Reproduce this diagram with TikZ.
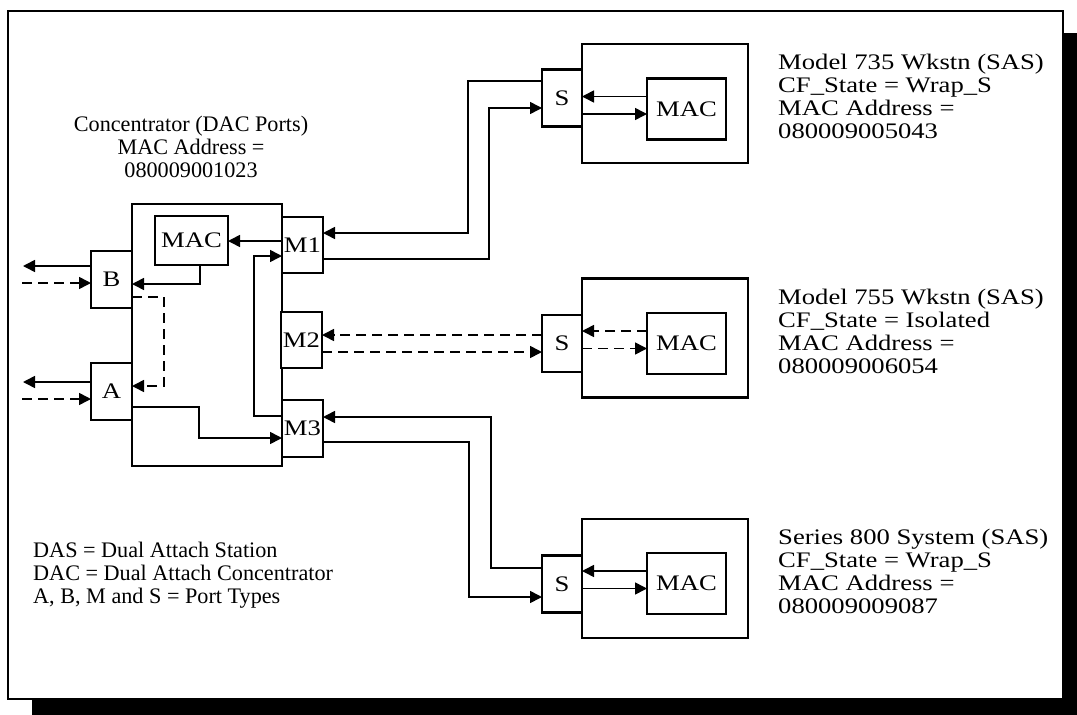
\documentclass[tikz,border=0pt]{standalone}
\usepackage{fontspec}
\setmainfont{Liberation Serif}
\newfontfamily\widefont{Liberation Serif}[FakeStretch=1.2]
\usepackage{tikz}
\usetikzlibrary{arrows.meta}

\begin{document}
\fontsize{22.2}{23}\selectfont
\begin{tikzpicture}[x=1pt,y=1pt,
  port/.style={draw,line width=2.6pt,fill=white,inner sep=0pt,outer sep=0pt,font=\widefont},
  conn/.style={line width=1.6pt,-{Triangle[length=12pt,width=12pt]}},
  dsh/.style={dash pattern=on 10pt off 6pt},
  txt/.style={inner sep=0pt}]
  \useasboundingbox (0,0) rectangle (1077,-715);
  \fill (32,-33) rectangle (1077,-715);
  \draw[fill=white,line width=1.6pt] (8,-11) rectangle (1063,-699);

  \node[port,minimum width=150pt,minimum height=262pt] (conc) at (207,-335) {};
  \node[port,minimum width=73pt,minimum height=49pt] (cmac) at (191.5,-240.5) {MAC};
  \node[port,minimum width=41pt,minimum height=57pt] (portB) at (111.5,-279.5) {B};
  \node[port,minimum width=41pt,minimum height=57pt] (portA) at (111.5,-391.5) {A};
  \node[port,minimum width=41pt,minimum height=56pt] (portM1) at (302.5,-245) {M1};
  \node[port,minimum width=41pt,minimum height=56pt] (portM2) at (301.5,-340) {M2};
  \node[port,minimum width=41pt,minimum height=57pt] (portM3) at (302.5,-428.5) {M3};

  \foreach \n/\oy/\sy/\my/\ls/\lbl [evaluate=\my as \ua using \my+12.5,
      evaluate=\my as \da using \my-5, evaluate=\oy as \ly using \oy+7] in
    {1/-103.5/-98/-109/solid/{Model 735 Wkstn (SAS)\\CF\_State = Wrap\_S\\MAC Address =\\080009005043},
     2/-338/-343.5/-343.5/dsh/{Model 755 Wkstn (SAS)\\CF\_State = Isolated\\MAC Address =\\080009006054},
     3/-578.5/-584/-583.5/solid/{Series 800 System (SAS)\\CF\_State = Wrap\_S\\MAC Address =\\080009009087}}
  {
    \node[port,minimum width=166pt,minimum height=119pt] (st\n) at (665,\oy) {};
    \node[port,minimum width=40pt,minimum height=57pt] (s\n) at (562,\sy) {S};
    \node[port,minimum width=79pt,minimum height=61pt] (mac\n) at (686.5,\my) {MAC};
    \draw[conn,\ls] (mac\n.west |- 0,\ua) -- (s\n.east |- 0,\ua);
    \draw[conn,\ls] (s\n.east |- 0,\da) -- (mac\n.west |- 0,\da);
    \node[txt,anchor=west,align=left,font=\widefont] (lbl\n) at (778,\ly) {\lbl};
  }

  \node[txt,align=center] (conclbl) at (191,-147) {Concentrator (DAC Ports)\\MAC Address =\\080009001023};
  \node[txt,anchor=west,align=left] (legend) at (33,-575) {DAS = Dual Attach Station\\DAC = Dual Attach Concentrator\\A, B, M and S = Port Types};

  \coordinate (bOut) at (23,-266);
  \coordinate (bIn) at (22,-283);
  \coordinate (aOut) at (23,-382);
  \coordinate (aIn) at (22,-399);
  \draw[conn] (portB.west |- bOut) -- (bOut);
  \draw[conn,dsh] (bIn) -- (portB.west |- bIn);
  \draw[conn] (portA.west |- aOut) -- (aOut);
  \draw[conn,dsh] (aIn) -- (portA.west |- aIn);

  \draw[conn] (cmac.south -| 200,0) |- (portB.east |- 0,-284);
  \draw[conn,dsh] (portB.east |- 0,-297) -- ++(32,0) |- (portA.east |- 0,-386);
  \draw[conn] (portM1.west |- 0,-241) -- (cmac.east |- 0,-241);
  \draw[conn] (portM3.west |- 0,-416) -- ++(-28,0) |- (portM1.west |- 0,-256);
  \draw[conn] (portA.east |- 0,-407) -- ++(67,0) |- (portM3.west |- 0,-438);

  \draw[conn] (s1.west |- 0,-81) -- ++(-74,0) |- (portM1.east |- 0,-233);
  \draw[conn] (portM1.east |- 0,-259) -- ++(166,0) |- (s1.west |- 0,-108);
  \draw[conn,dsh] (s2.west |- 0,-335) -- (portM2.east |- 0,-335);
  \draw[conn,dsh] (portM2.east |- 0,-352) -- (s2.west |- 0,-352);
  \draw[conn] (s3.west |- 0,-568) -- ++(-51,0) |- (portM3.east |- 0,-417);
  \draw[conn] (portM3.east |- 0,-442) -- ++(146,0) |- (s3.west |- 0,-597);
\end{tikzpicture}
\end{document}
